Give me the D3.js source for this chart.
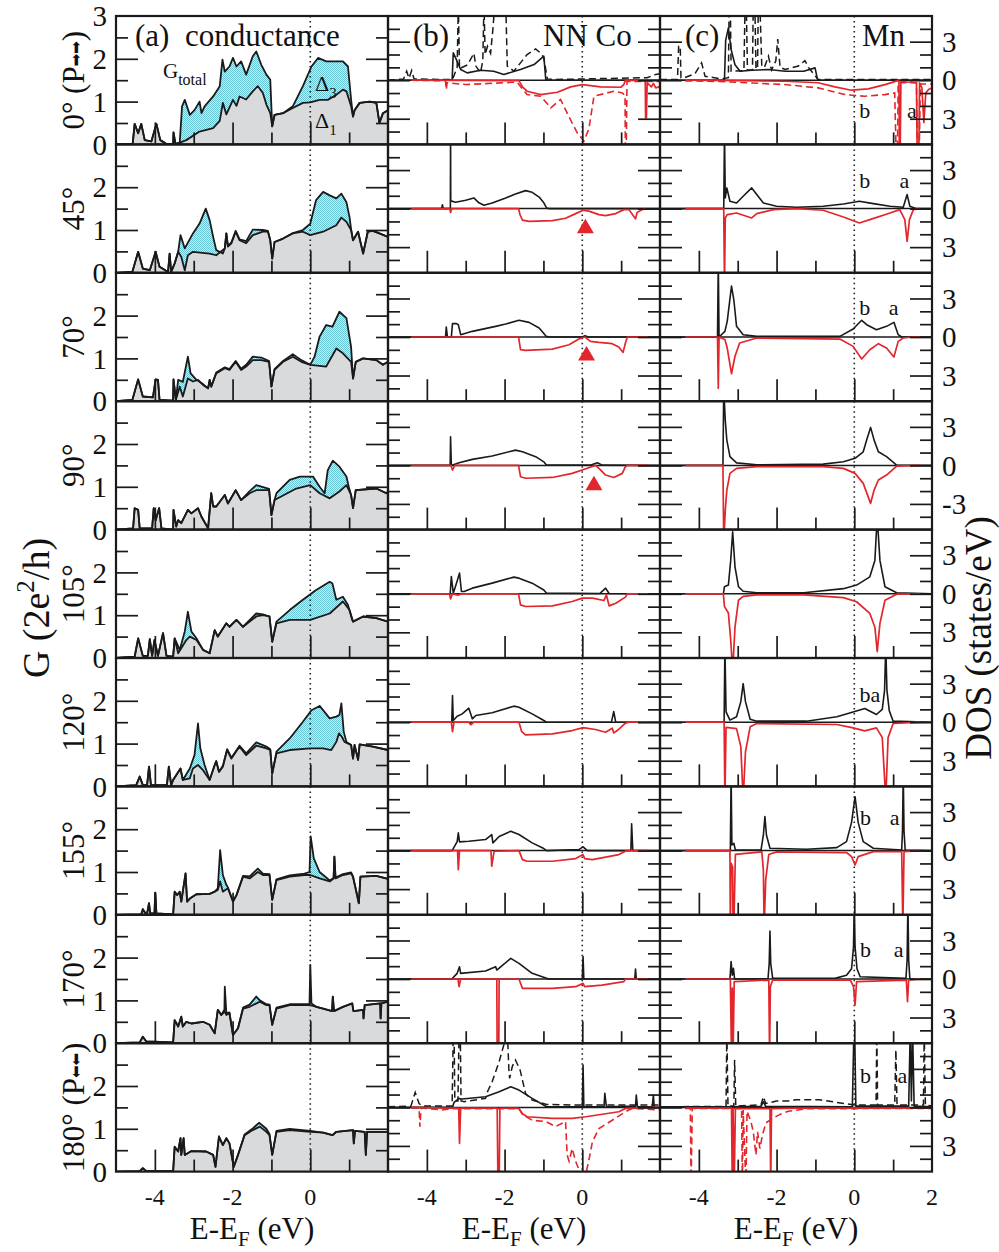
<!DOCTYPE html>
<html><head><meta charset="utf-8">
<script src="https://cdn.jsdelivr.net/npm/d3@7"></script>
<style>body{margin:0;background:#fff;} text{font-family:"Liberation Serif","Times New Roman",serif;fill:#111;}</style>
</head><body><svg id="c" width="999" height="1252"></svg>
<script>
// ---------------- DATA ----------------
const rowLabels = ["0\u00B0 (P\u27A1\u27A1)","45\u00B0","70\u00B0","90\u00B0","105\u00B0","120\u00B0","155\u00B0","170\u00B0","180\u00B0 (P\u2B05\u2B05)"];
const xMajor = [-4,-2,0,2], xMinor = [-3,-1,1];
const gMajor = [1,2], gMinor = [0.5,1.5,2.5];
const dosMajor = [-3,0,3], dosMinor = [-4,-2,-1,1,2,4];
const xTickLabels = [[-4,-2,0],[-4,-2,0],[-4,-2,0,2]];
const gTickLabels = [0,1,2];
const dosTickLabels = [3,0,-3];

// conductance (a): total and Delta_1 per row
const gTotal = [
[[-5,0],[-4.57,0.02],[-4.52,0.48],[-4.43,0.26],[-4.35,0.48],[-4.26,0.1],[-4.09,0.07],[-3.96,0.48],[-3.86,0.1],[-3.70,0.01],[-3.53,0.01],[-3.52,0.28],[-3.47,0.01],[-3.36,0.04],[-3.30,0.89],[-3.23,1.04],[-3.10,0.69],[-2.98,0.8],[-2.85,1.0],[-2.80,0.73],[-2.72,0.89],[-2.50,1.12],[-2.33,1.36],[-2.26,1.98],[-2.20,1.7],[-2.08,1.82],[-1.99,2.02],[-1.90,1.82],[-1.78,1.94],[-1.65,1.63],[-1.48,2.06],[-1.39,2.17],[-1.26,1.86],[-1.13,1.63],[-1.03,1.51],[-0.98,0.42],[-0.92,0.69],[-0.70,0.73],[-0.45,0.89],[-0.19,1.36],[0.03,1.82],[0.20,2.02],[0.41,1.94],[0.58,1.94],[0.84,1.94],[0.97,1.82],[1.05,1.05],[1.10,0.65],[1.14,0.8],[1.27,0.97],[1.53,1.0],[1.70,0.97],[1.78,0.5],[1.87,0.73],[2,0.8]],
[[-5,0],[-4.58,0.02],[-4.43,0.49],[-4.31,0.1],[-4.13,0.06],[-3.98,0.49],[-3.88,0.14],[-3.66,0.02],[-3.62,0.45],[-3.58,0.02],[-3.49,0.22],[-3.40,0.49],[-3.34,0.88],[-3.23,0.57],[-3.02,0.92],[-2.85,1.15],[-2.69,1.5],[-2.59,1.23],[-2.50,0.84],[-2.42,0.53],[-2.25,0.45],[-2.20,0.57],[-2.16,0.92],[-2.12,0.63],[-2.03,0.71],[-1.92,0.98],[-1.82,0.78],[-1.65,0.74],[-1.48,1.01],[-1.22,1.0],[-1.09,0.98],[-1.03,0.76],[-0.98,0.33],[-0.92,0.72],[-0.70,0.8],[-0.45,0.93],[-0.19,1.0],[0,1.15],[0.15,1.7],[0.33,1.89],[0.50,1.81],[0.67,1.74],[0.80,1.85],[0.93,1.65],[1.01,1.3],[1.05,1.02],[1.10,0.76],[1.23,0.96],[1.36,0.45],[1.48,0.96],[1.61,0.98],[1.78,0.92],[2,0.84]],
[[-5,0],[-4.58,0.03],[-4.43,0.51],[-4.31,0.11],[-4.05,0.09],[-3.98,0.51],[-3.92,0.5],[-3.88,0.03],[-3.53,0.01],[-3.52,0.51],[-3.46,0.03],[-3.40,0.5],[-3.28,0.45],[-3.15,1.04],[-3.08,0.65],[-2.93,0.5],[-2.76,0.4],[-2.63,0.3],[-2.59,0.5],[-2.55,0.34],[-2.42,0.67],[-2.20,0.79],[-2.08,0.75],[-1.92,0.94],[-1.78,0.76],[-1.65,0.85],[-1.48,1.04],[-1.26,1.02],[-1.06,0.94],[-1.0,0.34],[-0.92,0.75],[-0.70,0.94],[-0.45,1.1],[-0.23,0.96],[0,0.85],[0.11,1.04],[0.24,1.51],[0.41,1.78],[0.57,1.74],[0.75,2.09],[0.93,1.94],[1.05,1.27],[1.10,0.53],[1.17,0.92],[1.36,1.0],[1.70,0.96],[1.87,0.85],[2,0.92]],
[[-5,0],[-4.56,0.03],[-4.52,0.5],[-4.43,0.46],[-4.39,0.03],[-4.07,0.03],[-4.03,0.5],[-3.98,0.22],[-3.89,0.5],[-3.83,0.03],[-3.53,0],[-3.52,0.46],[-3.45,0.07],[-3.40,0.22],[-3.32,0.15],[-3.15,0.46],[-3.06,0.38],[-2.89,0.5],[-2.80,0.3],[-2.63,0.03],[-2.55,0.85],[-2.50,0.54],[-2.42,0.54],[-2.20,0.81],[-2.12,0.61],[-1.92,0.92],[-1.78,0.69],[-1.56,0.9],[-1.39,1.04],[-1.06,0.95],[-1.0,0.34],[-0.92,0.69],[-0.87,0.85],[-0.53,1.16],[-0.27,1.24],[0.07,1.24],[0.24,1.0],[0.37,0.85],[0.45,1.39],[0.58,1.61],[0.75,1.47],[0.93,1.24],[0.99,1.0],[1.05,0.81],[1.10,0.5],[1.17,0.92],[1.70,0.96],[1.96,0.85],[2,0.89]],
[[-5,0],[-4.52,0.03],[-4.43,0.46],[-4.31,0.05],[-4.18,0.05],[-4.13,0.44],[-4.07,0.05],[-4.01,0.42],[-3.92,0.05],[-3.79,0.58],[-3.70,0.05],[-3.53,0.03],[-3.49,0.46],[-3.36,0.19],[-3.23,0.62],[-3.15,1.08],[-3.06,0.62],[-2.93,0.46],[-2.76,0.19],[-2.59,0.11],[-2.46,0.65],[-2.38,0.5],[-2.16,0.81],[-2.08,0.73],[-1.90,0.89],[-1.73,0.73],[-1.39,1.04],[-1.22,1.02],[-1.05,0.97],[-0.98,0.38],[-0.87,0.85],[-0.53,1.12],[-0.19,1.36],[0.15,1.59],[0.50,1.78],[0.57,1.74],[0.67,1.36],[0.84,1.43],[0.97,1.24],[1.08,0.89],[1.10,0.85],[1.36,0.97],[1.70,0.93],[2,0.85]],
[[-5,0],[-4.48,0.03],[-4.39,0.23],[-4.31,0.03],[-4.20,0.03],[-4.15,0.46],[-4.10,0.03],[-3.69,0.03],[-3.64,0.46],[-3.58,0.03],[-3.53,0.15],[-3.34,0.42],[-3.28,0.15],[-3.10,0.42],[-2.98,0.73],[-2.89,1.47],[-2.83,0.89],[-2.72,0.5],[-2.59,0.15],[-2.46,0.5],[-2.42,0.59],[-2.35,0.34],[-2.25,0.48],[-2.14,0.87],[-2.03,0.67],[-1.82,0.95],[-1.65,0.77],[-1.39,1.03],[-1.13,0.93],[-1.03,0.87],[-0.98,0.3],[-0.87,0.81],[-0.53,1.12],[-0.19,1.51],[0.03,1.78],[0.24,1.88],[0.50,1.59],[0.67,1.63],[0.75,1.67],[0.80,1.94],[0.86,1.28],[0.93,1.04],[1.05,0.97],[1.10,0.65],[1.14,0.97],[1.23,0.62],[1.27,0.98],[1.61,0.93],[2,0.85]],
[[-5,0],[-4.35,0.01],[-4.31,0.13],[-4.24,0.03],[-4.20,0.03],[-4.15,0.27],[-4.12,0.03],[-4.01,0.03],[-3.99,0.52],[-3.96,0.03],[-3.53,0.01],[-3.49,0.54],[-3.43,0.46],[-3.36,0.54],[-3.32,0.31],[-3.21,0.97],[-3.17,0.31],[-3.10,0.38],[-2.93,0.48],[-2.59,0.49],[-2.46,0.54],[-2.38,0.62],[-2.32,1.51],[-2.25,0.93],[-2.16,0.7],[-2.12,0.64],[-1.99,0.31],[-1.90,0.46],[-1.73,0.91],[-1.56,0.9],[-1.35,1.08],[-1.22,0.96],[-1.05,0.95],[-0.98,0.35],[-0.87,0.83],[-0.53,0.92],[-0.15,0.96],[-0.02,1.0],[0.01,1.83],[0.09,1.32],[0.24,1.0],[0.50,0.8],[0.60,0.86],[0.62,1.36],[0.65,0.87],[0.84,0.95],[1.05,0.99],[1.10,0.89],[1.25,0.27],[1.29,0.89],[1.70,0.91],[2,0.84]],
[[-5,0],[-4.39,0.02],[-4.31,0.15],[-4.22,0.04],[-3.53,0.02],[-3.49,0.54],[-3.40,0.39],[-3.32,0.62],[-3.28,0.39],[-3.19,0.5],[-3.06,0.46],[-2.76,0.5],[-2.59,0.43],[-2.46,0.23],[-2.38,0.78],[-2.29,0.66],[-2.21,0.78],[-2.20,1.32],[-2.16,0.7],[-2.08,0.72],[-1.99,0.19],[-1.86,0.35],[-1.73,0.83],[-1.56,0.9],[-1.39,1.09],[-1.30,1.0],[-1.13,0.91],[-1.05,0.9],[-0.98,0.43],[-0.87,0.83],[-0.53,0.91],[-0.02,0.91],[0,1.83],[0.03,0.93],[0.15,0.85],[0.33,0.81],[0.56,0.75],[0.58,1.09],[0.61,0.75],[0.84,0.85],[1.08,0.93],[1.11,0.75],[1.36,0.78],[1.37,0.58],[1.40,0.89],[1.80,0.93],[1.81,0.58],[1.83,0.93],[2,0.97]],
[[-5,0],[-4.39,0.01],[-4.31,0.08],[-4.22,0.01],[-3.53,0.01],[-3.49,0.58],[-3.40,0.47],[-3.34,0.78],[-3.32,0.39],[-3.26,0.78],[-3.23,0.39],[-3.06,0.48],[-2.68,0.47],[-2.50,0.39],[-2.44,0.11],[-2.35,0.82],[-2.25,0.62],[-2.16,0.78],[-2.08,0.66],[-1.97,0.11],[-1.86,0.39],[-1.69,0.87],[-1.48,1.01],[-1.32,1.14],[-1.13,1.0],[-1.05,0.88],[-0.98,0.39],[-0.87,0.95],[-0.53,1.0],[0,0.95],[0.33,0.91],[0.57,0.85],[0.67,0.93],[1.10,0.97],[1.12,0.66],[1.15,0.95],[1.40,0.93],[1.43,0.39],[1.46,0.93],[2,0.93]]
];
const gDelta1 = [
[[-5,0],[-4.57,0.02],[-4.52,0.48],[-4.43,0.26],[-4.35,0.48],[-4.26,0.1],[-4.09,0.07],[-3.96,0.48],[-3.86,0.1],[-3.70,0.01],[-3.53,0.01],[-3.52,0.28],[-3.47,0.01],[-3.36,0.04],[-3.19,0.1],[-2.85,0.3],[-2.50,0.38],[-2.33,0.55],[-2.25,0.97],[-2.16,0.7],[-1.99,1.04],[-1.90,0.9],[-1.82,1.12],[-1.65,1.05],[-1.48,1.24],[-1.35,1.36],[-1.22,1.2],[-1.13,0.93],[-1.03,0.73],[-0.98,0.42],[-0.92,0.69],[-0.70,0.73],[-0.45,0.85],[-0.19,0.97],[0,0.98],[0.24,1.04],[0.45,1.04],[0.67,1.16],[0.84,1.28],[0.93,1.24],[1.05,0.89],[1.10,0.65],[1.14,0.8],[1.27,0.97],[1.53,1.0],[1.70,0.97],[1.78,0.5],[1.87,0.73],[2,0.8]],
[[-5,0],[-4.58,0.02],[-4.43,0.49],[-4.31,0.1],[-4.13,0.06],[-3.98,0.49],[-3.88,0.14],[-3.66,0.02],[-3.62,0.45],[-3.58,0.02],[-3.49,0.22],[-3.40,0.49],[-3.32,0.37],[-3.23,0.06],[-3.15,0.41],[-3.02,0.49],[-2.59,0.45],[-2.42,0.41],[-2.20,0.57],[-2.16,0.92],[-2.12,0.61],[-2.03,0.69],[-1.92,0.96],[-1.82,0.76],[-1.65,0.69],[-1.48,0.88],[-1.22,0.96],[-1.09,0.96],[-1.03,0.76],[-0.98,0.33],[-0.92,0.72],[-0.70,0.8],[-0.45,0.92],[-0.19,0.96],[0,0.88],[0.33,0.96],[0.67,1.11],[0.80,1.29],[0.93,1.19],[1.05,1.0],[1.10,0.76],[1.23,0.96],[1.36,0.45],[1.48,0.96],[1.61,0.98],[1.78,0.92],[2,0.84]],
[[-5,0],[-4.58,0.03],[-4.43,0.51],[-4.31,0.11],[-4.05,0.09],[-3.98,0.51],[-3.92,0.5],[-3.88,0.03],[-3.53,0.01],[-3.52,0.51],[-3.46,0.03],[-3.36,0.34],[-3.28,0.11],[-3.15,0.53],[-3.02,0.46],[-2.89,0.5],[-2.76,0.38],[-2.63,0.3],[-2.59,0.5],[-2.55,0.34],[-2.42,0.65],[-2.20,0.77],[-2.08,0.73],[-1.92,0.92],[-1.78,0.73],[-1.65,0.81],[-1.48,0.96],[-1.26,0.96],[-1.06,0.92],[-1.0,0.34],[-0.92,0.73],[-0.70,0.92],[-0.45,1.04],[-0.23,0.92],[0,0.85],[0.41,0.81],[0.67,1.23],[0.84,1.12],[1.05,0.92],[1.10,0.53],[1.17,0.92],[1.36,1.0],[1.70,0.96],[1.87,0.85],[2,0.92]],
[[-5,0],[-4.56,0.03],[-4.52,0.5],[-4.43,0.46],[-4.39,0.03],[-4.07,0.03],[-4.03,0.5],[-3.98,0.22],[-3.89,0.5],[-3.83,0.03],[-3.53,0],[-3.52,0.46],[-3.45,0.07],[-3.40,0.22],[-3.32,0.15],[-3.15,0.46],[-3.06,0.38],[-2.89,0.5],[-2.80,0.3],[-2.63,0.03],[-2.55,0.85],[-2.50,0.54],[-2.42,0.54],[-2.20,0.81],[-2.12,0.61],[-1.92,0.92],[-1.78,0.69],[-1.56,0.85],[-1.39,0.92],[-1.06,0.92],[-1.0,0.34],[-0.92,0.69],[-0.36,0.96],[0,1.04],[0.24,0.85],[0.50,0.73],[0.75,0.89],[0.93,1.04],[1.05,0.81],[1.10,0.5],[1.17,0.92],[1.70,0.96],[1.96,0.85],[2,0.89]],
[[-5,0],[-4.52,0.03],[-4.43,0.46],[-4.31,0.05],[-4.18,0.05],[-4.13,0.44],[-4.07,0.05],[-4.01,0.42],[-3.92,0.05],[-3.79,0.58],[-3.70,0.05],[-3.53,0.03],[-3.49,0.46],[-3.40,0.11],[-3.19,0.42],[-3.10,0.5],[-2.93,0.42],[-2.76,0.19],[-2.59,0.11],[-2.46,0.65],[-2.38,0.5],[-2.16,0.81],[-2.08,0.73],[-1.90,0.89],[-1.73,0.73],[-1.39,0.97],[-1.22,1.0],[-1.05,0.97],[-0.98,0.38],[-0.87,0.81],[-0.53,0.89],[0,0.89],[0.50,1.04],[0.84,1.32],[1.01,1.12],[1.10,0.85],[1.36,0.97],[1.70,0.93],[2,0.85]],
[[-5,0],[-4.48,0.03],[-4.39,0.23],[-4.31,0.03],[-4.20,0.03],[-4.15,0.46],[-4.10,0.03],[-3.69,0.03],[-3.64,0.46],[-3.58,0.03],[-3.53,0.15],[-3.34,0.42],[-3.28,0.15],[-3.10,0.19],[-3.02,0.42],[-2.89,0.5],[-2.76,0.38],[-2.59,0.15],[-2.46,0.5],[-2.42,0.59],[-2.35,0.34],[-2.25,0.46],[-2.14,0.85],[-2.03,0.65],[-1.82,0.93],[-1.65,0.73],[-1.39,0.95],[-1.13,0.89],[-1.03,0.85],[-0.98,0.3],[-0.87,0.77],[-0.53,0.85],[0,0.89],[0.33,0.89],[0.54,0.85],[0.67,1.04],[0.74,1.24],[0.81,1.16],[0.88,1.04],[1.05,0.97],[1.10,0.65],[1.14,0.97],[1.23,0.62],[1.27,0.98],[1.61,0.93],[2,0.85]],
[[-5,0],[-4.35,0.01],[-4.31,0.13],[-4.24,0.03],[-4.20,0.03],[-4.15,0.27],[-4.12,0.03],[-4.01,0.03],[-3.99,0.52],[-3.96,0.03],[-3.53,0.01],[-3.49,0.54],[-3.43,0.46],[-3.36,0.54],[-3.32,0.31],[-3.21,0.97],[-3.17,0.31],[-3.10,0.38],[-2.93,0.48],[-2.59,0.49],[-2.46,0.54],[-2.38,0.58],[-2.32,0.78],[-2.25,0.54],[-2.12,0.62],[-1.99,0.31],[-1.90,0.46],[-1.73,0.89],[-1.56,0.85],[-1.35,1.0],[-1.22,0.93],[-1.05,0.93],[-0.98,0.35],[-0.87,0.81],[-0.53,0.89],[-0.15,0.93],[0,0.93],[0.24,0.85],[0.50,0.78],[0.60,0.85],[0.62,1.36],[0.65,0.85],[0.84,0.93],[1.05,0.97],[1.10,0.89],[1.25,0.27],[1.29,0.89],[1.70,0.91],[2,0.84]],
[[-5,0],[-4.39,0.02],[-4.31,0.15],[-4.22,0.04],[-3.53,0.02],[-3.49,0.54],[-3.40,0.39],[-3.32,0.62],[-3.28,0.39],[-3.19,0.5],[-3.06,0.46],[-2.76,0.5],[-2.59,0.43],[-2.46,0.23],[-2.38,0.78],[-2.29,0.66],[-2.20,0.74],[-2.16,0.66],[-2.08,0.7],[-1.99,0.19],[-1.86,0.35],[-1.73,0.81],[-1.56,0.85],[-1.30,0.97],[-1.13,0.89],[-1.05,0.89],[-0.98,0.43],[-0.87,0.81],[-0.53,0.89],[0,0.89],[0.33,0.81],[0.56,0.75],[0.58,1.09],[0.61,0.75],[0.84,0.85],[1.08,0.93],[1.11,0.75],[1.36,0.78],[1.37,0.58],[1.40,0.89],[1.80,0.93],[1.81,0.58],[1.83,0.93],[2,0.97]],
[[-5,0],[-4.39,0.01],[-4.31,0.08],[-4.22,0.01],[-3.53,0.01],[-3.49,0.58],[-3.40,0.47],[-3.34,0.78],[-3.32,0.39],[-3.26,0.78],[-3.23,0.39],[-3.06,0.48],[-2.68,0.47],[-2.50,0.39],[-2.44,0.11],[-2.35,0.82],[-2.25,0.62],[-2.16,0.78],[-2.08,0.66],[-1.97,0.11],[-1.86,0.39],[-1.69,0.85],[-1.48,0.97],[-1.30,1.05],[-1.13,0.93],[-1.05,0.85],[-0.98,0.39],[-0.87,0.93],[-0.53,0.97],[0,0.93],[0.33,0.91],[0.57,0.85],[0.67,0.93],[1.10,0.97],[1.12,0.66],[1.15,0.95],[1.40,0.93],[1.43,0.39],[1.46,0.93],[2,0.93]]
];

// NN Co DOS (b): spin up (black, +), spin down (red, -)
const coUp = [
[[-5,0],[-3.35,0],[-3.32,2.13],[-3.26,1.74],[-3.13,0.83],[-2.96,0.57],[-2.62,0.78],[-2.28,0.7],[-2.02,0.44],[-1.59,0.83],[-1.24,1.22],[-0.99,1.87],[-0.94,0.05],[-0.90,0],[2,0]],
[[-5,0],[-3.62,0],[-3.60,0.3],[-3.58,0],[-3.395,0],[-3.39,6],[-3.385,0.6],[-3.26,0.5],[-3.0,0.65],[-2.79,0.83],[-2.66,0.45],[-2.53,0.26],[-2.32,0.44],[-1.97,0.83],[-1.72,1.14],[-1.46,1.4],[-1.29,1.27],[-1.11,0.9],[-0.99,0.45],[-0.92,0.05],[-0.85,0],[2,0]],
[[-5,0],[-3.52,0],[-3.50,0.78],[-3.47,0],[-3.37,0],[-3.34,1.04],[-3.24,1.04],[-3.19,0.95],[-3.13,0.18],[-2.83,0.44],[-2.23,0.83],[-1.97,1.01],[-1.63,1.3],[-1.37,1.14],[-1.11,0.7],[-0.93,0.05],[-0.85,0],[0,0],[0.07,0.1],[0.15,0],[2,0]],
[[-5,0],[-3.40,0],[-3.39,2.23],[-3.37,0],[-3.17,0.2],[-2.83,0.47],[-2.32,0.73],[-1.72,1.19],[-1.54,1.06],[-1.20,0.68],[-0.99,0.28],[-0.92,0.02],[0.2,0.02],[0.39,0.2],[0.51,0.02],[2,0]],
[[-5,0],[-3.40,0],[-3.37,1.35],[-3.32,0.05],[-3.22,1.0],[-3.16,1.61],[-3.11,0.18],[-3.04,0.18],[-2.83,0.44],[-2.32,0.83],[-1.76,1.3],[-1.63,1.22],[-1.29,0.83],[-0.99,0.3],[-0.92,0.05],[0.45,0.02],[0.60,0.44],[0.69,0.02],[2,0]],
[[-5,0],[-3.36,0],[-3.34,2.08],[-3.32,0.13],[-3.22,0.47],[-3.09,0.65],[-2.92,1.09],[-2.83,0.26],[-2.74,0.52],[-2.32,0.73],[-1.76,1.25],[-1.63,1.17],[-1.29,0.65],[-0.99,0.13],[-0.92,0],[0.75,0],[0.81,0.83],[0.86,0],[2,0]],
[[-5,0],[-3.35,0],[-3.22,0.7],[-3.19,1.38],[-3.16,0.68],[-2.92,0.73],[-2.49,0.86],[-2.33,1.25],[-2.30,0.6],[-2.14,1.1],[-1.84,1.51],[-1.63,1.25],[-1.29,0.6],[-0.99,0.16],[-0.92,0],[-0.09,0.08],[0.02,0.29],[0.13,0],[1.25,0],[1.27,2.08],[1.30,0],[2,0]],
[[-5,0],[-3.36,0],[-3.22,0.44],[-3.16,0.95],[-3.13,0.44],[-2.49,0.62],[-2.23,0.96],[-2.20,0.7],[-1.84,1.61],[-1.63,1.22],[-1.29,0.44],[-0.92,0.05],[-0.85,0],[0,0],[0.02,1.74],[0.04,0],[1.35,0],[1.37,0.78],[1.39,0],[2,0]],
[[-5,0],[-3.34,0],[-3.30,0.4],[-3.17,0.7],[-3.09,0.65],[-2.49,0.83],[-2.14,1.22],[-1.84,1.61],[-1.63,1.35],[-1.29,0.7],[-0.92,0.05],[0,0.05],[0.02,3.3],[0.04,0.05],[0.56,0.05],[0.58,1.09],[0.62,0.05],[1.37,0.1],[1.39,0.96],[1.42,0.05],[1.80,0.05],[1.83,0.96],[1.85,0],[2,0]]
];
const coDown = [
[[-4.4,0],[-1.63,-0.03],[-1.54,-0.52],[-1.42,-0.86],[-1.07,-1.12],[-0.64,-0.94],[-0.30,-0.52],[0,-0.34],[0.47,-0.52],[0.99,-0.55],[1.07,-0.34],[1.11,0],[1.62,-0.05],[1.63,-2.93],[1.65,-2.93],[1.67,-0.2],[1.78,-0.52],[1.83,-0.25],[1.89,-0.6],[2,-0.5]],
[[-4.4,0],[-3.41,0],[-3.39,-0.3],[-3.36,0],[-1.64,0],[-1.60,-0.5],[-1.54,-0.9],[-1.37,-0.99],[-0.77,-0.94],[-0.43,-0.75],[-0.17,-0.39],[0.02,-0.13],[0.17,-0.2],[0.43,-0.47],[0.60,-0.55],[0.86,-0.39],[1.07,-0.08],[1.20,-0.08],[1.30,-0.5],[1.37,-0.8],[1.41,-0.3],[1.54,-0.08],[1.63,0]],
[[-4.4,0],[-1.64,0],[-1.59,-0.99],[-1.46,-1.04],[-0.77,-0.94],[-0.34,-0.6],[-0.09,-0.16],[0.07,0],[0.21,-0.34],[0.43,-0.42],[0.77,-0.52],[0.94,-0.78],[1.05,-1.2],[1.11,-0.47],[1.16,0],[1.7,0]],
[[-4.4,0],[-3.38,0],[-3.34,-0.36],[-3.28,0],[-1.64,0],[-1.59,-0.88],[-1.46,-1.0],[-0.77,-0.94],[-0.26,-0.62],[0.09,-0.26],[0.34,0],[0.43,-0.23],[0.60,-0.75],[0.81,-0.94],[1.03,-0.62],[1.11,-0.1],[1.16,0],[1.7,0]],
[[-4.4,0],[-3.42,0],[-3.39,-0.4],[-3.34,0],[-3.2,-0.1],[-3.1,0],[-1.64,0],[-1.59,-0.86],[-1.46,-0.99],[-0.77,-0.94],[-0.26,-0.6],[0,-0.34],[0.26,-0.34],[0.56,-0.52],[0.62,-0.08],[0.69,-0.94],[0.86,-0.73],[1.11,-0.26],[1.16,0],[1.7,0]],
[[-4.4,0],[-3.37,0],[-3.34,-0.73],[-3.30,0],[-2.92,0],[-2.87,-0.2],[-2.79,0],[-1.63,0],[-1.56,-0.73],[-1.46,-0.99],[-0.77,-0.91],[-0.26,-0.65],[0.02,-0.42],[0.34,-0.57],[0.60,-0.78],[0.77,-0.47],[0.81,-0.83],[0.90,-0.65],[1.11,-0.08],[1.20,0],[1.7,0]],
[[-4.4,0],[-3.21,0],[-3.19,-1.48],[-3.16,0],[-2.35,0],[-2.33,-1.22],[-2.27,-0.05],[-1.63,0],[-1.54,-0.7],[-1.42,-0.83],[-0.77,-0.83],[-0.17,-0.62],[0.02,-0.31],[0.06,-0.62],[0.26,-0.7],[0.94,-0.31],[1.11,-0.05],[1.16,0],[1.7,0]],
[[-4.4,0],[-3.20,0],[-3.17,-0.6],[-3.13,0],[-2.20,0],[-2.19,-6],[-2.15,-6],[-2.14,0],[-1.63,0],[-1.54,-0.73],[-0.77,-0.73],[-0.17,-0.6],[0.02,-0.34],[0.06,-0.6],[0.51,-0.47],[1.07,-0.21],[1.11,0],[1.7,0]],
[[-4.4,0],[-3.5,-0.05],[-3.18,-0.05],[-3.16,-2.8],[-3.13,-0.05],[-2.19,-0.05],[-2.17,-6],[-2.14,-6],[-2.12,-0.05],[-1.63,-0.08],[-1.54,-0.5],[-1.42,-0.73],[-0.77,-0.86],[-0.26,-0.86],[0.09,-0.73],[0.94,-0.34],[1.11,-0.08],[2,0]]
];
const coUpDash = [
[[-5,0],[-4.6,0.1],[-4.52,0.7],[-4.46,0.15],[-4.39,0.75],[-4.33,0.1],[-3.6,0.05],[-3.34,0.05],[-3.22,1.0],[-3.19,6],[-3.16,0.9],[-2.95,1.2],[-2.79,2.1],[-2.74,1.1],[-2.62,0.6],[-2.56,1.5],[-2.53,6],[-2.50,2.0],[-2.44,2.65],[-2.36,2.1],[-2.30,4],[-2.25,6],[-1.97,6],[-1.93,1.1],[-1.76,0.7],[-1.42,2.0],[-1.20,2.44],[-1.07,2.1],[-0.99,1.75],[-0.90,0.1],[-0.73,0.05],[1.67,0.2],[1.89,0.45],[2,0.5]],
null,null,null,null,null,null,null,
[[-5,0.05],[-4.41,0.1],[-4.30,1.17],[-4.20,0.3],[-4.12,0.1],[-3.35,0.1],[-3.32,6],[-3.30,6],[-3.28,0.5],[-3.20,0.5],[-3.17,6],[-3.14,6],[-3.12,0.5],[-3.04,0.45],[-2.49,0.7],[-2.44,1.22],[-2.32,2.0],[-2.14,3.56],[-2.02,4.86],[-1.93,6],[-1.89,3.0],[-1.87,2.26],[-1.80,3.2],[-1.72,3.69],[-1.60,2.9],[-1.46,1.09],[-1.29,0.57],[-0.92,0.23],[0,0.18],[1.0,0.18],[2,0.18]]
];
const coDownDash = [
[[-4.4,0],[-3.52,-0.05],[-3.50,-0.73],[-3.48,-0.2],[-3.0,-0.34],[-1.68,-0.15],[-1.42,-1.12],[-1.07,-1.25],[-0.81,-2.16],[-0.56,-1.5],[-0.30,-3.1],[-0.13,-4.1],[0.04,-4.75],[0.17,-3.8],[0.30,-1.25],[0.81,-0.86],[1.03,-0.99],[1.10,-1.2],[1.11,-6],[1.13,-6],[1.15,-0.1],[2,-0.1]],
null,null,null,null,null,null,null,
[[-4.4,-0.05],[-4.20,-0.05],[-4.18,-1.5],[-4.15,-0.05],[-3.6,-0.2],[-3.4,-0.1],[-1.63,-0.1],[-1.54,-0.55],[-1.29,-1.0],[-0.94,-1.1],[-0.69,-1.5],[-0.43,-1.1],[-0.39,-3.7],[-0.34,-4.2],[-0.26,-3.2],[-0.17,-4.2],[-0.04,-5.2],[0.09,-5.2],[0.17,-4.1],[0.26,-2.68],[0.43,-1.64],[0.77,-1.0],[1.11,-0.34],[1.28,-0.08],[2,-0.2]]
];
const coTriangles = [[1,0.08,-1.42],[2,0.11,-1.32],[3,0.30,-1.43]];

// Mn DOS (c)
const mnUp = [
[[-5,0],[-3.37,0],[-3.34,0.1],[-3.31,3.1],[-3.24,4.08],[-3.17,2.4],[-3.07,1.2],[-2.94,0.7],[-2.64,0.78],[-2.2,0.83],[-1.78,0.7],[-1.3,0.7],[-1.01,0.96],[-0.95,0.1],[-0.93,0],[2,0]],
[[-5,0],[-3.36,0],[-3.34,6],[-3.32,0.83],[-3.28,1.61],[-3.20,0.57],[-3.03,0.44],[-2.86,0.96],[-2.64,1.61],[-2.51,1.09],[-2.34,0.44],[-2.0,0.18],[-1.48,0.1],[-0.8,0.18],[-0.28,0.36],[0.13,0.57],[0.49,0.39],[0.92,0.18],[1.26,0.1],[1.36,1.09],[1.43,0.18],[1.55,0.05],[1.6,0],[2,0]],
[[-5,0],[-3.52,0],[-3.50,6],[-3.48,0],[-3.33,0.44],[-3.27,1.22],[-3.16,3.96],[-3.10,2.9],[-3.03,0.83],[-2.86,0.18],[-2.51,0.05],[-0.37,0.05],[-0.03,0.62],[0.19,1.3],[0.32,0.96],[0.57,0.57],[0.83,0.83],[1.02,1.14],[1.13,0.18],[1.22,0],[2,0]],
[[-5,0],[-3.38,0],[-3.36,6],[-3.32,3.5],[-3.28,1.97],[-3.20,0.68],[-3.03,0.2],[-2.51,0.05],[-0.8,0.1],[-0.28,0.28],[0.02,0.55],[0.23,1.06],[0.33,2.1],[0.42,2.96],[0.51,1.97],[0.62,1.06],[0.83,0.68],[1.09,0.03],[2,0]],
[[-5,0],[-3.37,0],[-3.34,0.55],[-3.24,0.68],[-3.18,2.6],[-3.13,4.83],[-3.07,2.1],[-2.98,0.55],[-2.86,0.2],[-2.51,0.08],[-1.3,0.08],[-0.28,0.4],[0.06,0.68],[0.40,1.32],[0.53,2.6],[0.59,6],[0.66,2.6],[0.79,0.55],[1.09,0.08],[2,0]],
[[-5,0],[-3.35,0],[-3.33,6],[-3.30,0.8],[-3.20,0.16],[-3.03,0.42],[-2.92,1.6],[-2.86,3.0],[-2.80,1.6],[-2.68,0.23],[-2.51,0.08],[-1.23,0.08],[-0.45,0.42],[-0.03,0.8],[0.27,1.07],[0.57,0.6],[0.72,1.0],[0.78,2.5],[0.81,6],[0.84,2.5],[0.90,0.9],[1.0,0.08],[2,0]],
[[-5,0],[-3.19,0],[-3.17,6],[-3.15,0.44],[-3.10,0.57],[-3.06,0.05],[-2.40,0.05],[-2.34,1.2],[-2.30,2.65],[-2.26,1.2],[-2.17,0.18],[-1.23,0.1],[-0.45,0.23],[-0.20,0.7],[-0.07,2.2],[0.02,4.2],[0.10,2.2],[0.23,0.7],[0.49,0.18],[1.22,0.05],[1.24,1.5],[1.26,6],[1.28,1.5],[1.31,0.05],[2,0]],
[[-5,0],[-3.20,0],[-3.17,1.35],[-3.14,0.3],[-3.11,0.83],[-3.08,0],[-2.22,0.02],[-2.19,1.2],[-2.17,3.74],[-2.15,1.2],[-2.10,0.05],[-0.5,0.05],[-0.2,0.3],[-0.07,0.8],[-0.02,2.5],[0,6],[0.02,2.5],[0.07,0.8],[0.15,0.18],[1.33,0.05],[1.36,1.5],[1.38,6],[1.40,1.5],[1.43,0],[2,0]],
[[-5,0.05],[-3.3,0.05],[-2.4,0.08],[-2.34,0.45],[-2.28,0.08],[-0.05,0.05],[-0.01,6],[0.01,6],[0.04,0.1],[1.40,0.1],[1.44,6],[1.47,0.5],[1.50,6],[1.54,0.1],[2,0.05]]
];
const mnDown = [
[[-4.35,0],[-1.78,-0.08],[-0.93,-0.2],[-0.50,-0.52],[-0.07,-0.78],[0.36,-0.68],[0.79,-0.34],[1.12,-0.03],[1.15,-0.1],[1.16,-6],[1.18,-6],[1.20,-0.1],[1.60,-0.2],[1.62,-6],[1.66,-6],[1.68,-0.2],[1.74,-0.6],[1.79,-3.3],[1.84,-1.0],[1.91,-0.73],[2,-0.6]],
[[-4.35,0],[-3.36,0],[-3.34,-6],[-3.32,-0.73],[-3.27,-0.47],[-3.03,-0.34],[-2.64,-0.73],[-2.51,-0.39],[-2.08,-0.08],[-1.48,0],[-0.8,-0.13],[-0.28,-0.65],[0.13,-1.12],[0.40,-0.86],[0.92,-0.34],[1.17,-0.08],[1.30,-0.86],[1.36,-2.55],[1.42,-0.86],[1.52,-0.08],[1.7,0]],
[[-4.35,0],[-3.52,0],[-3.50,-4.0],[-3.48,0],[-3.33,-0.2],[-3.27,-0.86],[-3.16,-2.86],[-3.07,-1.5],[-2.95,-0.47],[-2.51,-0.08],[-0.37,-0.16],[-0.03,-0.73],[0.19,-1.71],[0.40,-0.99],[0.62,-0.52],[0.83,-0.86],[1.02,-1.56],[1.13,-0.34],[1.26,-0.08],[1.5,0],[1.7,0]],
[[-4.35,0],[-3.38,0],[-3.36,-6],[-3.32,-3.5],[-3.28,-1.92],[-3.20,-0.62],[-3.03,-0.23],[-2.51,-0.1],[-0.8,-0.1],[-0.28,-0.23],[0.02,-0.62],[0.23,-1.4],[0.42,-2.96],[0.51,-1.92],[0.62,-1.14],[0.83,-0.75],[1.09,-0.05],[1.7,0]],
[[-4.35,0],[-3.37,0],[-3.34,-1.0],[-3.24,-1.5],[-3.18,-3.6],[-3.13,-6],[-3.07,-2.6],[-2.98,-0.5],[-2.86,-0.2],[-2.51,-0.08],[-1.3,-0.08],[-0.28,-0.3],[0.06,-0.62],[0.40,-1.53],[0.53,-2.6],[0.59,-4.5],[0.66,-2.3],[0.79,-0.5],[1.09,-0.03],[1.7,0]],
[[-4.35,0],[-3.35,0],[-3.33,-6],[-3.30,-0.4],[-3.03,-0.5],[-2.92,-1.9],[-2.86,-6],[-2.80,-2.3],[-2.68,-0.36],[-2.51,-0.1],[-0.45,-0.18],[-0.03,-0.44],[0.27,-0.68],[0.57,-0.44],[0.72,-1.2],[0.81,-6],[0.87,-1.2],[1.0,-0.1],[1.7,0]],
[[-4.35,0],[-3.20,0],[-3.19,-6],[-3.17,-1.0],[-3.13,-1.3],[-3.12,-6],[-3.10,-6],[-3.06,-0.3],[-2.38,-0.1],[-2.34,-1.5],[-2.32,-6],[-2.28,-2.3],[-2.20,-0.3],[-2.0,-0.1],[-0.2,-0.15],[-0.07,-0.47],[0.02,-1.12],[0.10,-0.47],[0.49,-0.08],[1.22,-0.08],[1.25,-6],[1.28,-0.08],[1.7,0]],
[[-4.35,0],[-3.19,0],[-3.16,-6],[-3.14,-0.7],[-3.12,-6],[-3.09,-0.2],[-2.20,-0.08],[-2.18,-6],[-2.16,-0.6],[-2.10,-0.08],[-0.1,-0.08],[-0.02,-0.6],[0.02,-2.03],[0.06,-0.2],[1.34,-0.08],[1.37,-1.77],[1.40,-0.08],[1.7,0]],
[[-4.35,-0.05],[-3.16,-0.05],[-3.14,-6],[-3.12,-0.1],[-3.09,-6],[-3.06,-0.1],[-2.17,-0.1],[-2.15,-6],[-2.13,-0.1],[-1.5,-0.05],[2,-0.05]]
];
const mnUpDash = [
[[-5,0.05],[-4.55,0.05],[-4.52,2.65],[-4.48,2.65],[-4.46,0.2],[-4.36,0.2],[-4.1,0.5],[-3.93,1.35],[-3.84,0.3],[-3.4,0.1],[-3.24,0.2],[-3.22,6],[-3.19,6],[-3.17,0.7],[-2.84,0.75],[-2.81,6],[-2.78,6],[-2.75,0.8],[-2.62,0.8],[-2.60,6],[-2.56,6],[-2.53,0.9],[-2.49,0.9],[-2.47,6],[-2.43,6],[-2.38,1.0],[-2.30,1.1],[-2.21,1.87],[-2.13,0.8],[-2.02,1.5],[-1.97,3.2],[-1.91,1.0],[-1.78,0.83],[-1.44,1.1],[-1.27,1.53],[-1.18,1.0],[-0.97,0.2],[-0.93,0.05],[2,0.05]],
null,null,null,null,null,null,null,
[[-5,0.05],[-3.30,0.08],[-3.28,6],[-3.25,0.1],[-3.10,0.1],[-3.08,3.7],[-3.05,0.1],[-2.40,0.2],[-2.34,0.83],[-2.28,0.3],[-2.0,0.5],[-1.7,0.5],[-1.5,0.6],[-0.9,0.6],[0,0.18],[0.56,0.18],[0.58,6],[0.60,0.18],[1.04,0.18],[1.07,4.47],[1.10,0.18],[1.78,0.18],[1.80,6],[1.83,0.18],[2,0.1]]
];
const mnDownDash = [
[[-4.35,-0.05],[-3.5,-0.1],[-1.78,-0.34],[-0.93,-0.6],[-0.24,-1.12],[0.27,-1.25],[0.79,-1.12],[1.04,-0.99],[1.08,-6],[1.11,-6],[1.13,-0.2],[1.60,-0.2],[1.63,-6],[1.67,-6],[1.70,-0.3],[2,-0.3]],
null,null,null,null,null,null,null,
[[-4.35,-0.08],[-4.22,-0.08],[-4.20,-6],[-4.17,-0.08],[-2.90,-0.08],[-2.88,-6],[-2.86,-0.2],[-2.79,-6],[-2.76,-0.3],[-2.66,-1.1],[-2.60,-1.9],[-2.53,-3.7],[-2.49,-1.9],[-2.43,-3.2],[-2.36,-2.1],[-2.27,-1.2],[-2.10,-0.86],[-1.95,-0.6],[-1.7,-0.3],[-1.2,-0.1],[2,-0.08]]
];
// peak labels in (c): [row, text, E, DOS(baseline)]
const mnPeakLabels = [
[0,"b",0.27,-2.94],[0,"a",1.48,-2.94],
[1,"b",0.27,1.6],[1,"a",1.29,1.6],
[2,"b",0.27,1.71],[2,"a",1.01,1.71],
[5,"ba",0.40,1.57],
[6,"b",0.29,1.99],[6,"a",1.04,1.99],
[7,"b",0.29,1.71],[7,"a",1.14,1.71],
[8,"b",0.29,1.9],[8,"a",1.24,1.9]
];

// ---------------- LAYOUT ----------------
const TOP = 16, ROWH = 128.4, NROWS = 9;
const cols = [[116,388],[388,660],[660,932]];
const RED = "#e3262b", GRAY = "#d9dadc";
const svg = d3.select("#c");
const defs = svg.append("defs");
const pat = defs.append("pattern").attr("id","chk").attr("width",2).attr("height",2).attr("patternUnits","userSpaceOnUse");
pat.append("rect").attr("width",2).attr("height",2).attr("fill","#cdecf1");
pat.append("rect").attr("width",1).attr("height",1).attr("fill","#68c4d3");
pat.append("rect").attr("x",1).attr("y",1).attr("width",1).attr("height",1).attr("fill","#68c4d3");

const xs = cols.map(c => d3.scaleLinear().domain([-5,2]).range(c));

function addTicks(g, axis, tr){
  g.append("g").attr("transform",tr).call(axis)
   .call(a=>a.select(".domain").remove())
   .call(a=>a.selectAll("line").attr("stroke","#1a1a1a").attr("stroke-width",1.7))
   .call(a=>a.selectAll("text").remove());
}

for (let r=0; r<NROWS; r++){
  const y0 = TOP + r*ROWH, y1 = y0 + ROWH;
  const yG = d3.scaleLinear().domain([0,3]).range([y1,y0]);
  const yD = d3.scaleLinear().domain([-5,5]).range([y1,y0]);
  for (let c=0;c<3;c++){
    defs.append("clipPath").attr("id",`cl${r}_${c}`).append("rect")
      .attr("x",cols[c][0]).attr("y",y0).attr("width",cols[c][1]-cols[c][0]).attr("height",ROWH);
  }
  // ---- (a) conductance
  {
    const x = xs[0];
    const g = svg.append("g").attr("clip-path",`url(#cl${r}_0)`);
    const area = d3.area().x(d=>x(d[0])).y0(yG(0)).y1(d=>yG(d[1]));
    const line = d3.line().x(d=>x(d[0])).y(d=>yG(d[1]));
    g.append("path").attr("d",area(gTotal[r])).attr("fill","url(#chk)");
    g.append("path").attr("d",area(gDelta1[r])).attr("fill",GRAY);
    g.append("path").attr("d",line(gTotal[r])).attr("fill","none").attr("stroke","#1a1a1a").attr("stroke-width",1.8).attr("stroke-linejoin","round");
    g.append("path").attr("d",line(gDelta1[r])).attr("fill","none").attr("stroke","#1a1a1a").attr("stroke-width",1.8).attr("stroke-linejoin","round");
    g.append("line").attr("x1",x(0)).attr("x2",x(0)).attr("y1",y0).attr("y2",y1)
      .attr("stroke","#222").attr("stroke-width",1.6).attr("stroke-dasharray","1.5,3.5");
    addTicks(svg, d3.axisLeft(yG).tickValues(gMajor).tickSize(-22), `translate(${cols[0][0]},0)`);
    addTicks(svg, d3.axisLeft(yG).tickValues(gMinor).tickSize(-12), `translate(${cols[0][0]},0)`);
    addTicks(svg, d3.axisRight(yG).tickValues(gMajor).tickSize(-22), `translate(${cols[0][1]},0)`);
    addTicks(svg, d3.axisRight(yG).tickValues(gMinor).tickSize(-12), `translate(${cols[0][1]},0)`);
    addTicks(svg, d3.axisBottom(x).tickValues(xMajor.filter(v=>v<2)).tickSize(-22), `translate(0,${y1})`);
    addTicks(svg, d3.axisBottom(x).tickValues(xMinor).tickSize(-12), `translate(0,${y1})`);
    const lab = r===0 ? gTickLabels.concat([3]) : gTickLabels;
    lab.forEach(v=>{
      svg.append("text").attr("x",107).attr("y",yG(v)).attr("dy","0.35em").attr("text-anchor","end")
        .attr("font-size",29).text(v);
    });
  }
  // ---- (b) NN Co and (c) Mn
  [[1,coUp,coDown,coUpDash,coDownDash],[2,mnUp,mnDown,mnUpDash,mnDownDash]].forEach(([c,up,dn,upD,dnD])=>{
    const x = xs[c];
    const g = svg.append("g").attr("clip-path",`url(#cl${r}_${c})`);
    const line = d3.line().x(d=>x(d[0])).y(d=>yD(d[1]));
    g.append("line").attr("x1",cols[c][0]).attr("x2",cols[c][1]).attr("y1",yD(0)).attr("y2",yD(0))
      .attr("stroke","#1a1a1a").attr("stroke-width",1.5);
    g.append("line").attr("x1",x(0)).attr("x2",x(0)).attr("y1",y0).attr("y2",y1)
      .attr("stroke","#222").attr("stroke-width",1.6).attr("stroke-dasharray","1.5,3.5");
    if (upD[r]) g.append("path").attr("d",line(upD[r])).attr("fill","none").attr("stroke","#1a1a1a").attr("stroke-width",1.5).attr("stroke-dasharray","7,4");
    if (dnD[r]) g.append("path").attr("d",line(dnD[r])).attr("fill","none").attr("stroke",RED).attr("stroke-width",1.6).attr("stroke-dasharray","7,4");
    g.append("path").attr("d",line(up[r])).attr("fill","none").attr("stroke","#1a1a1a").attr("stroke-width",1.6).attr("stroke-linejoin","round");
    g.append("path").attr("d",line(dn[r])).attr("fill","none").attr("stroke",RED).attr("stroke-width",1.7).attr("stroke-linejoin","round");
    addTicks(svg, d3.axisLeft(yD).tickValues(dosMajor).tickSize(-22), `translate(${cols[c][0]},0)`);
    addTicks(svg, d3.axisLeft(yD).tickValues(dosMinor).tickSize(-12), `translate(${cols[c][0]},0)`);
    addTicks(svg, d3.axisRight(yD).tickValues(dosMajor).tickSize(-22), `translate(${cols[c][1]},0)`);
    addTicks(svg, d3.axisRight(yD).tickValues(dosMinor).tickSize(-12), `translate(${cols[c][1]},0)`);
    addTicks(svg, d3.axisBottom(x).tickValues(xMajor.filter(v=>v<2)).tickSize(-22), `translate(0,${y1})`);
    addTicks(svg, d3.axisBottom(x).tickValues(xMinor).tickSize(-12), `translate(0,${y1})`);
    if (c===1){
      coTriangles.filter(t=>t[0]===r).forEach(t=>{
        const cx=x(t[1]), cy=yD(t[2]);
        svg.append("path").attr("d",`M${cx},${cy-8} L${cx+8.5},${cy+6.5} L${cx-8.5},${cy+6.5} Z`).attr("fill",RED);
      });
    } else {
      dosTickLabels.forEach(v=>{
        svg.append("text").attr("x",942).attr("y",yD(v)).attr("dy","0.35em").attr("font-size",29)
          .text(v===-3 ? (r===3 ? "-3" : "3") : String(v));
      });
      mnPeakLabels.filter(t=>t[0]===r).forEach(t=>{
        svg.append("text").attr("x",x(t[2])).attr("y",yD(t[3])).attr("text-anchor","middle").attr("font-size",22).text(t[1]);
      });
    }
  });
  // row label (spin arrows rendered as compact heavy arrows)
  {
    const t = svg.append("text").attr("transform",`translate(73,${(y0+y1)/2}) rotate(-90)`).attr("text-anchor","middle")
      .attr("dy","0.35em").attr("font-size",31);
    const parts = rowLabels[r].split(/([\u27A1\u2B05]+)/).filter(s=>s.length);
    parts.forEach((p,i)=>{
      if (/[\u27A1\u2B05]/.test(p)) {
        t.append("tspan").attr("font-family","'DejaVu Sans'").attr("font-size",15).attr("dy",-3).text(p);
      } else t.append("tspan").attr("dy", i>0 ? 3 : null).text(p);
    });
  }
  // frames
  cols.forEach(c=>{
    svg.append("rect").attr("x",c[0]).attr("y",y0).attr("width",c[1]-c[0]).attr("height",ROWH)
      .attr("fill","none").attr("stroke","#1a1a1a").attr("stroke-width",2.2);
  });
}

// x tick labels and titles
const yBottom = TOP + NROWS*ROWH;
xTickLabels.forEach((vals,c)=>{
  vals.forEach(v=>{
    svg.append("text").attr("x",xs[c](v)).attr("y",yBottom+33).attr("text-anchor","middle").attr("font-size",24).text(v);
  });
  const t = svg.append("text").attr("x",(cols[c][0]+cols[c][1])/2).attr("y",1239).attr("text-anchor","middle").attr("font-size",31);
  t.append("tspan").text("E-E");
  t.append("tspan").attr("font-size",21).attr("dy",7).text("F");
  t.append("tspan").attr("dy",-7).text(" (eV)");
});

// axis titles
{
  const t = svg.append("text").attr("transform","translate(36,608) rotate(-90)").attr("text-anchor","middle").attr("dy","0.35em").attr("font-size",38);
  t.append("tspan").text("G (2e");
  t.append("tspan").attr("font-size",25).attr("dy",-15).text("2");
  t.append("tspan").attr("dy",15).text("/h)");
  svg.append("text").attr("transform","translate(991,638) rotate(-90)").attr("text-anchor","middle").attr("font-size",37).text("DOS (states/eV)");
}

// panel annotations
svg.append("text").attr("x",135).attr("y",46).attr("font-size",31).attr("xml:space","preserve").text("(a)  conductance");
{
  const t = svg.append("text").attr("x",163).attr("y",78).attr("font-size",21);
  t.append("tspan").text("G");
  t.append("tspan").attr("font-size",16).attr("dy",7).text("total");
  const d3t = svg.append("text").attr("x",315).attr("y",91).attr("font-size",22);
  d3t.append("tspan").text("\u0394");
  d3t.append("tspan").attr("font-size",15).attr("dy",7).text("3");
  const d1t = svg.append("text").attr("x",315).attr("y",128).attr("font-size",22);
  d1t.append("tspan").text("\u0394");
  d1t.append("tspan").attr("font-size",15).attr("dy",7).text("1");
}
svg.append("text").attr("x",413).attr("y",46).attr("font-size",31).text("(b)");
svg.append("text").attr("x",543).attr("y",46).attr("font-size",31).text("NN Co");
svg.append("text").attr("x",685).attr("y",46).attr("font-size",31).text("(c)");
svg.append("text").attr("x",862).attr("y",46).attr("font-size",31).text("Mn");
</script></body></html>
